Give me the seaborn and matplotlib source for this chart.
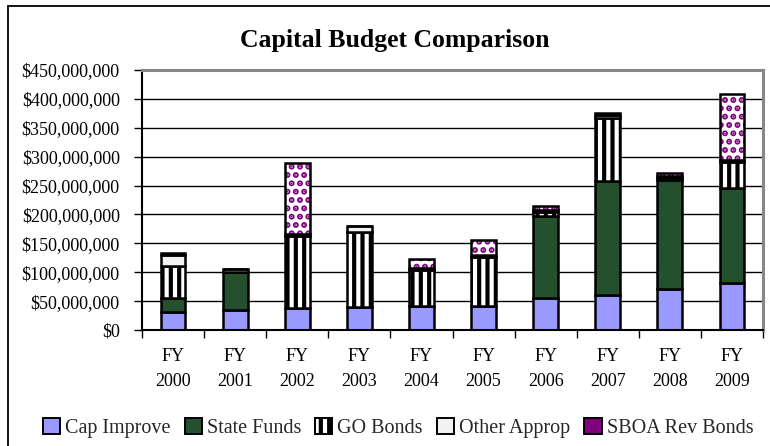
import matplotlib
matplotlib.use("Agg")
import matplotlib.pyplot as plt
from matplotlib.patches import Patch
from matplotlib.lines import Line2D
from matplotlib.ticker import FuncFormatter, FixedLocator
import seaborn as sns
import numpy as np

# ---- data (millions of dollars) ----
years = ["FY\n2000", "FY\n2001", "FY\n2002", "FY\n2003", "FY\n2004",
         "FY\n2005", "FY\n2006", "FY\n2007", "FY\n2008", "FY\n2009"]
cap_improve = [32, 35, 38, 39, 41, 42, 55, 61, 71, 81]
state_funds = [24, 65, 0, 0, 0, 0, 143, 196.5, 189, 165]
go_bonds = [55, 0, 125.5, 130, 63.5, 85, 6, 110, 3.5, 44.5]
other_approp = [18.5, 6, 3, 10.5, 3.5, 3.5, 4, 4, 3, 4]
sboa_rev_bonds = [3, 0, 123, 0, 15, 26, 6, 4.5, 6, 114.5]
series_names = ["Cap Improve", "State Funds", "GO Bonds", "Other Approp", "SBOA Rev Bonds"]
title = "Capital Budget Comparison"

sns.set_theme(style="white")
plt.rcParams["font.family"] = ["Liberation Serif", "DejaVu Serif"]
plt.rcParams["hatch.linewidth"] = 3.0

fig = plt.figure(figsize=(7.7, 4.46), dpi=100)
ax = fig.add_axes([142 / 770, 1 - 330 / 446, (763 - 142) / 770, (330 - 70) / 446])

series = [cap_improve, state_funds, go_bonds, other_approp, sboa_rev_bonds]
faces = ["#9999FF", "#24502E", "white", "#F2F2F2", "white"]
hatches = [None, None, "||", None, ".."]
bottom = np.zeros(len(years))
W = 0.4
for i, (vals, fc, h) in enumerate(zip(series, faces, hatches)):
    vals = np.asarray(vals, dtype=float)
    if i == 4:
        sns.barplot(x=years, y=vals, order=years, bottom=bottom.copy(), width=W, ax=ax,
                    color="white", facecolor="white", edgecolor="#800080", hatch=h,
                    linewidth=0, saturation=1, zorder=2)
        sns.barplot(x=years, y=vals, order=years, bottom=bottom.copy(), width=W, ax=ax,
                    color="white", facecolor="none", edgecolor="black", linewidth=1.8,
                    saturation=1, zorder=3)
    else:
        kw = dict(hatch=h) if h else {}
        sns.barplot(x=years, y=vals, order=years, bottom=bottom.copy(), width=W, ax=ax,
                    color=fc, facecolor=fc, edgecolor="black", linewidth=1.8,
                    saturation=1, zorder=2, **kw)
    bottom += vals

ax.set_ylim(0, 450)
ax.set_xlim(-0.5, len(years) - 0.5)
ax.yaxis.set_major_locator(FixedLocator(np.arange(0, 451, 50)))
ax.yaxis.set_major_formatter(FuncFormatter(lambda v, p: f"${v * 1e6:,.0f}"))
ax.grid(axis="y", color="black", linewidth=1.0, zorder=0)
ax.set_axisbelow(True)
ax.set_xlabel("")
ax.set_ylabel("")

ax.tick_params(axis="y", which="major", direction="out", length=6, width=1,
               color="black", labelsize=13, pad=10, left=True)
ax.tick_params(axis="x", which="major", length=0, labelsize=13, pad=13)
ax.set_xticks(np.arange(-0.5, len(years), 1.0), minor=True)
ax.tick_params(axis="x", which="minor", direction="out", length=6, width=1,
               color="black", bottom=True)
for lab in ax.get_xticklabels():
    lab.set_linespacing(1.6)
for lab in ax.get_yticklabels() + ax.get_xticklabels():
    lab.set_color("black")

for s in ["left", "bottom"]:
    ax.spines[s].set_color("black")
    ax.spines[s].set_linewidth(1.5)
for s in ["top", "right"]:
    ax.spines[s].set_color("#888888")
    ax.spines[s].set_linewidth(2.2)

fig.text(0.513, 1 - 40 / 446, title, ha="center", va="center",
         fontsize=18.5, fontweight="bold", color="black")

handles = [
    Patch(facecolor="#9999FF", edgecolor="black", linewidth=1.4),
    Patch(facecolor="#24502E", edgecolor="black", linewidth=1.4),
    Patch(facecolor="white", edgecolor="black", hatch="||", linewidth=1.4),
    Patch(facecolor="#F2F2F2", edgecolor="black", linewidth=1.4),
    Patch(facecolor="#800080", edgecolor="black", linewidth=1.4),
]
fig.legend(handles, series_names, loc="center", bbox_to_anchor=(0.517, 1 - 428 / 446),
           ncol=5, frameon=False, fontsize=14.5, handlelength=0.85, handleheight=0.85,
           columnspacing=0.7, handletextpad=0.25)

# outer chart border (top and left visible)
fig.add_artist(Line2D([8 / 770, 1.0], [1 - 6 / 446, 1 - 6 / 446], transform=fig.transFigure,
                      color="black", linewidth=1.3))
fig.add_artist(Line2D([8 / 770, 8 / 770], [0, 1 - 6 / 446], transform=fig.transFigure,
                      color="black", linewidth=1.3))

fig.savefig("out.png", dpi=100)
